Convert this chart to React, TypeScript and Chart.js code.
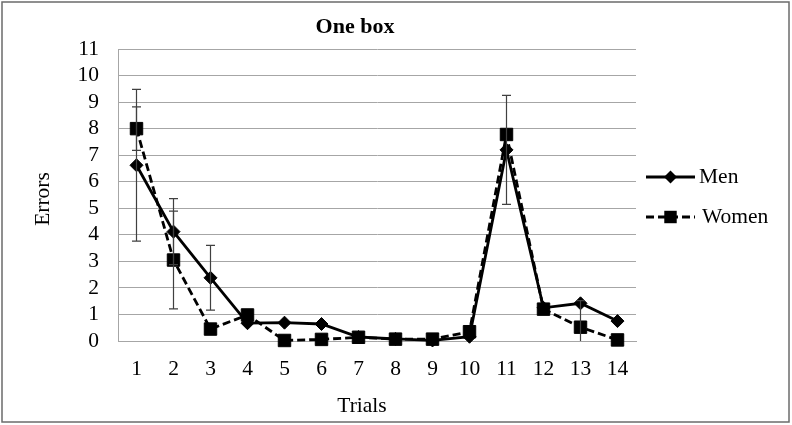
import React, { useEffect, useRef } from "react";
import { Chart, registerables } from "chart.js";

Chart.register(...registerables);

const categories = ["1", "2", "3", "4", "5", "6", "7", "8", "9", "10", "11", "12", "13", "14"];
const menValues = [6.62, 4.12, 2.38, 0.67, 0.69, 0.64, 0.15, 0.08, 0.02, 0.16, 7.2, 1.25, 1.42, 0.75];
const womenValues = [8.0, 3.05, 0.45, 0.98, 0.02, 0.06, 0.14, 0.07, 0.07, 0.35, 7.78, 1.2, 0.52, 0.04];
const menErrors = [2.86, 1.24, 1.22, 0, 0, 0, 0, 0, 0, 0, 2.05, 0, 0, 0];
const womenErrors = [0.82, 1.84, 0, 0, 0, 0, 0, 0, 0, 0, 0, 0, 1.0, 0];
const yMin = 0;
const yMax = 11;
const yStep = 1;
const chartTitle = "One box";
const xTitle = "Trials";
const yTitle = "Errors";

const FONT = '"Liberation Serif", "Times New Roman", serif';

const errorBarPlugin = {
  id: "errorBars",
  afterDatasetsDraw(chart: any) {
    const { ctx, scales } = chart;
    const xs = scales.x;
    const ys = scales.y;
    ctx.save();
    ctx.strokeStyle = "#404040";
    ctx.lineWidth = 1.2;
    chart.data.datasets.forEach((ds: any) => {
      const errs: number[] = ds.errors || [];
      ds.data.forEach((v: number, i: number) => {
        const e = errs[i] || 0;
        if (!e) return;
        const x = xs.getPixelForValue(i);
        const top = v + e;
        const lowRaw = v - e;
        const low = Math.max(lowRaw, ys.min);
        const yT = ys.getPixelForValue(top);
        const yB = ys.getPixelForValue(low);
        ctx.beginPath();
        ctx.moveTo(x, yT);
        ctx.lineTo(x, yB);
        ctx.moveTo(x - 4.5, yT);
        ctx.lineTo(x + 4.5, yT);
        if (lowRaw >= ys.min) {
          ctx.moveTo(x - 4.5, yB);
          ctx.lineTo(x + 4.5, yB);
        }
        ctx.stroke();
      });
    });
    ctx.restore();
  },
};

const decorPlugin = {
  id: "decor",
  afterDraw(chart: any) {
    const { ctx } = chart;
    ctx.save();
    // outer frame
    ctx.strokeStyle = "#6b6b6b";
    ctx.lineWidth = 1.5;
    ctx.strokeRect(2, 2, 787, 420);

    // title
    ctx.fillStyle = "#000";
    ctx.font = `bold 22px ${FONT}`;
    ctx.textAlign = "center";
    ctx.textBaseline = "middle";
    ctx.fillText(chartTitle, 355, 27);

    // axis titles
    ctx.font = `21.5px ${FONT}`;
    ctx.fillText(xTitle, 362, 406);
    ctx.save();
    ctx.translate(43, 199);
    ctx.rotate(-Math.PI / 2);
    ctx.fillText(yTitle, 0, 0);
    ctx.restore();

    // legend
    const rows = [177, 217];
    chart.data.datasets.forEach((ds: any, i: number) => {
      const y = rows[i];
      const x0 = 646;
      const x1 = 695;
      const cx = (x0 + x1) / 2;
      ctx.save();
      ctx.strokeStyle = ds.borderColor;
      ctx.lineWidth = ds.borderWidth;
      ctx.setLineDash(ds.borderDash || []);
      ctx.beginPath();
      ctx.moveTo(x0, y);
      ctx.lineTo(x1, y);
      ctx.stroke();
      ctx.setLineDash([]);
      ctx.fillStyle = ds.pointBackgroundColor;
      ctx.beginPath();
      if (ds.pointStyle === "rectRot") {
        const r = ds.pointRadius;
        ctx.moveTo(cx - r, y);
        ctx.lineTo(cx, y - r);
        ctx.lineTo(cx + r, y);
        ctx.lineTo(cx, y + r);
        ctx.closePath();
      } else {
        const s = ds.pointRadius * Math.SQRT1_2;
        ctx.rect(cx - s, y - s, 2 * s, 2 * s);
      }
      ctx.fill();
      ctx.restore();
      ctx.fillStyle = "#000";
      ctx.font = `21.5px ${FONT}`;
      ctx.textAlign = "left";
      ctx.textBaseline = "middle";
      ctx.fillText(ds.label, i === 0 ? 699 : 702, y);
    });
    ctx.restore();
  },
};

export default function App() {
  const canvasRef = useRef<HTMLCanvasElement | null>(null);

  useEffect(() => {
    if (!canvasRef.current) return;
    const chart = new Chart(canvasRef.current, {
      type: "line",
      data: {
        labels: categories,
        datasets: [
          {
            label: "Men",
            data: menValues,
            errors: menErrors,
            borderColor: "#000",
            backgroundColor: "#000",
            borderWidth: 2.8,
            pointStyle: "rectRot",
            pointRadius: 6.5,
            pointBackgroundColor: "#000",
            pointBorderColor: "#000",
            pointBorderWidth: 1,
            tension: 0,
            clip: false,
          } as any,
          {
            label: "Women",
            data: womenValues,
            errors: womenErrors,
            borderColor: "#000",
            backgroundColor: "#000",
            borderWidth: 2.8,
            borderDash: [8, 4],
            pointStyle: "rect",
            pointRadius: 8.8,
            pointBackgroundColor: "#000",
            pointBorderColor: "#000",
            pointBorderWidth: 1,
            tension: 0,
            clip: false,
          } as any,
        ],
      },
      options: {
        animation: false,
        responsive: false,
        maintainAspectRatio: false,
        layout: { padding: { top: 49, right: 156, left: 0, bottom: 0 } },
        plugins: {
          legend: { display: false },
          title: { display: false },
          tooltip: { enabled: false },
        },
        scales: {
          x: {
            type: "category",
            offset: true,
            grid: { display: false, drawTicks: false },
            border: { display: true, color: "#a6a6a6", width: 1 },
            ticks: {
              color: "#000",
              font: { family: FONT, size: 21.5 },
              padding: 15,
              maxRotation: 0,
              autoSkip: false,
            },
            afterFit: (s: any) => {
              s.height = 84;
            },
          },
          y: {
            min: yMin,
            max: yMax,
            grid: { color: "#a6a6a6", lineWidth: 1, drawTicks: false },
            border: { display: true, color: "#a6a6a6", width: 1 },
            ticks: {
              color: "#000",
              font: { family: FONT, size: 21.5 },
              padding: 19,
              stepSize: yStep,
              autoSkip: false,
            },
            afterFit: (s: any) => {
              s.width = 118;
            },
          },
        },
      } as any,
      plugins: [errorBarPlugin, decorPlugin],
    });
    return () => chart.destroy();
  }, []);

  return (
    <div style={{ position: "fixed", left: 0, top: 0, width: 792, height: 425, background: "#fff" }}>
      <canvas ref={canvasRef} width={792} height={425} style={{ width: 792, height: 425 }} />
    </div>
  );
}
